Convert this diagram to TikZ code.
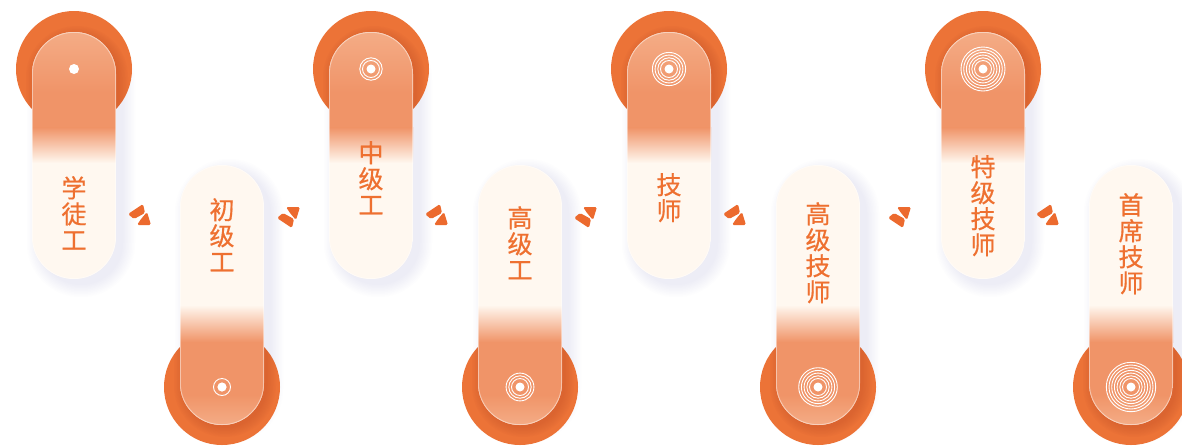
\documentclass[tikz,border=0pt]{standalone}
\usepackage{fontspec}
\newfontfamily\cjk[FakeBold=0.6]{Noto Sans CJK SC}
\definecolor{circ}{HTML}{EC7337}
\definecolor{circd}{HTML}{C8552A}
\definecolor{pillor}{HTML}{F09468}
\definecolor{pillhi}{HTML}{F4AC86}
\definecolor{cream}{HTML}{FFF8F0}
\definecolor{txt}{HTML}{EE7030}
\definecolor{chevc}{HTML}{EC6A2E}
\definecolor{shad}{HTML}{D8D8EC}
\tikzset{
  lbl/.style={font=\cjk\fontsize{25}{26}\selectfont, text=txt, align=center, inner sep=0pt, anchor=north},
  chev/.pic={
    \fill[chevc, rounded corners=1.6pt] (-12,0) -- (3,-10) -- (5,-1) -- (-6,5) -- cycle;
    \fill[chevc, rounded corners=1.6pt] (7,-2) -- (11,11) -- (-3,11) -- (1,5) -- cycle;
  }
}
\newcommand\rings[4]{% x, y, number of rings, dot radius
  \fill[white] (#1,#2) circle (#4);
  \ifnum#3>0
    \foreach \k in {1,...,#3}{\draw[white, line width=0.9pt] (#1,#2) circle ({8.5+(\k-1)*2.7});}
  \fi
}
\newcommand\pillshadow[3]{% cx, top, bottom
  \foreach \i in {0,1.5,...,12}{
    \fill[shad, opacity=0.05, rounded corners={42+\i}] ({#1-42+7-\i},{#2+6-\i}) rectangle ({#1+42+7+\i},{#3+6+\i});
  }
}
\newcommand\circshadow[4]{% cx, cy, top, bottom
  \begin{scope}
    \clip (#1,#2) circle (58);
    \foreach \i in {0,1.5,...,9}{
      \fill[circd, opacity=0.07, rounded corners={42+\i}] ({#1-42+3-\i},{#3+3-\i}) rectangle ({#1+42+3+\i},{#4+3+\i});
    }
  \end{scope}
}
\begin{document}
\begin{tikzpicture}[x=1pt,y=-1pt]
\useasboundingbox (0,0) rectangle (1182,445);
\fill[white] (0,0) rectangle (1182,445);
% ---------- top pills ----------
\foreach \cx in {74,371,669,983}{
  \pillshadow{\cx}{32}{279}
  \fill[circ] (\cx,69) circle (58);
  \circshadow{\cx}{69}{32}{279}
  \begin{scope}
    \clip[rounded corners=41.9] ({\cx-42},32) rectangle ({\cx+42},279);
    \fill[cream] ({\cx-42},32) rectangle ({\cx+42},279);
    \shade[top color=pillhi, bottom color=pillor] ({\cx-42},32) rectangle ({\cx+42},92);
    \fill[pillor] ({\cx-42},91.5) rectangle ({\cx+42},128);
    \shade[top color=pillor, bottom color=cream] ({\cx-42},127.5) rectangle ({\cx+42},163);
  \end{scope}
  \draw[white, opacity=0.45, line width=0.8pt, rounded corners=41.5] ({\cx-41.6},32.4) rectangle ({\cx+41.6},278.6);
}
% ---------- bottom pills ----------
\foreach \cx in {222,520,818,1131}{
  \pillshadow{\cx}{165}{425}
  \fill[circ] (\cx,387) circle (58);
  \circshadow{\cx}{387}{165}{425}
  \begin{scope}
    \clip[rounded corners=41.9] ({\cx-42},165) rectangle ({\cx+42},425);
    \fill[cream] ({\cx-42},165) rectangle ({\cx+42},425);
    \shade[top color=cream, bottom color=pillor] ({\cx-42},305) rectangle ({\cx+42},342);
    \fill[pillor] ({\cx-42},341.5) rectangle ({\cx+42},395);
    \shade[top color=pillor, bottom color=pillhi] ({\cx-42},394.5) rectangle ({\cx+42},425);
  \end{scope}
  \draw[white, opacity=0.45, line width=0.8pt, rounded corners=41.5] ({\cx-41.6},165.4) rectangle ({\cx+41.6},424.6);
}
% ---------- ring icons ----------
\rings{74}{69}{0}{5}
\rings{222}{387}{1}{4.6}
\rings{371}{69}{2}{4.5}
\rings{520}{387}{3}{4.5}
\rings{669}{69}{4}{4.5}
\rings{818}{387}{5}{4.5}
\rings{983}{69}{6}{4.5}
\rings{1131}{387}{7}{4.5}
% ---------- labels ----------
\node[lbl] (t1) at (74,176) {学\\徒\\工};
\node[lbl] (t2) at (222,198) {初\\级\\工};
\node[lbl] (t3) at (371,141) {中\\级\\工};
\node[lbl] (t4) at (520,206) {高\\级\\工};
\node[lbl] (t5) at (669,173) {技\\师};
\node[lbl] (t6) at (818,202) {高\\级\\技\\师};
\node[lbl] (t7) at (983,155) {特\\级\\技\\师};
\node[lbl] (t8) at (1131,193) {首\\席\\技\\师};
% ---------- chevrons ----------
\pic (c1) at (140,214) {chev};
\pic[yscale=-1] (c2) at (289,218) {chev};
\pic (c3) at (437,214) {chev};
\pic[yscale=-1] (c4) at (586,218) {chev};
\pic (c5) at (735,214) {chev};
\pic[yscale=-1] (c6) at (900,218) {chev};
\pic (c7) at (1048,214) {chev};
\end{tikzpicture}
\end{document}
